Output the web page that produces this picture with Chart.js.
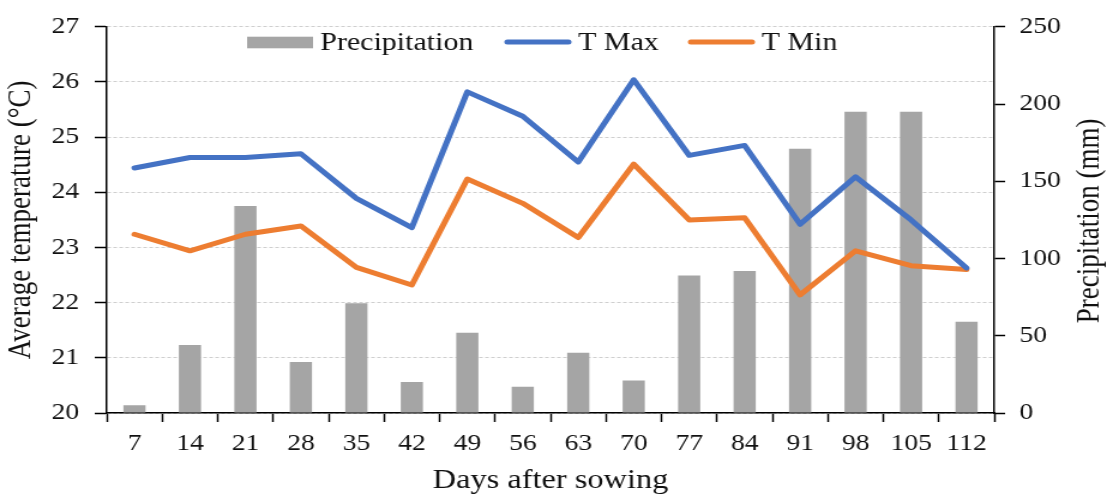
<!DOCTYPE html>
<html>
<head>
<meta charset="utf-8">
<title>Temperature and precipitation by days after sowing</title>
<script src="https://cdn.jsdelivr.net/npm/chart.js@4.4.1/dist/chart.umd.min.js"></script>
<style>
  html, body { margin: 0; padding: 0; background: #ffffff; overflow: hidden; }
  /* the chart is laid out on a narrower canvas and widened to the page */
  #wrap { width: 928px; height: 497px; transform: scaleX(1.19935); transform-origin: 0 0; }
  canvas { display: block; }
</style>
</head>
<body>
<div id="wrap"><canvas id="chart" width="928" height="497"></canvas></div>
<script>
// Days after sowing
const days = ['7', '14', '21', '28', '35', '42', '49', '56', '63', '70', '77', '84', '91', '98', '105', '112'];
// Precipitation per period (mm)
const precipitation = [5, 44, 134, 33, 71, 20, 52, 17, 39, 21, 89, 92, 171, 195, 195, 59];
// Average maximum and minimum temperature (°C)
const tMax = [24.44, 24.63, 24.63, 24.70, 23.89, 23.36, 25.82, 25.38, 24.55, 26.04, 24.67, 24.85, 23.42, 24.28, 23.50, 22.63];
const tMin = [23.24, 22.94, 23.24, 23.39, 22.64, 22.32, 24.24, 23.80, 23.18, 24.51, 23.50, 23.54, 22.14, 22.94, 22.67, 22.60];
// Axis tick values
const tempTicks = [20, 21, 22, 23, 24, 25, 26, 27];
const precipTicks = [0, 50, 100, 150, 200, 250];

const seriesNames = { precip: 'Precipitation', max: 'T Max', min: 'T Min' };
const axisTitles = { x: 'Days after sowing', y: 'Average temperature (°C)', y1: 'Precipitation (mm)' };

const COLORS = { max: '#4472C4', min: '#ED7D31', bar: '#A5A5A5', text: '#111111', grid: '#cfcfcf', axis: '#000000' };
const SERIF = "'Liberation Serif', 'Times New Roman', serif";

Chart.defaults.font.family = SERIF;
Chart.defaults.color = COLORS.text;

// Legend drawn inside the plot area, along the top
const legendLayout = { starts: [206, 421, 574], y: 42, symbolWidth: 55, gap: 6, boxHeight: 11.6, fontSize: 25 };

const insideLegend = {
  id: 'insideLegend',
  afterDraw(chart) {
    const ctx = chart.ctx;
    const L = legendLayout;
    const order = [2, 0, 1]; // Precipitation, T Max, T Min
    ctx.save();
    ctx.font = `${L.fontSize}px ${SERIF}`;
    ctx.textBaseline = 'middle';
    ctx.textAlign = 'left';
    order.forEach((di, k) => {
      const ds = chart.data.datasets[di];
      const x0 = L.starts[k];
      if (ds.type === 'bar') {
        ctx.fillStyle = ds.backgroundColor;
        ctx.fillRect(x0, L.y - L.boxHeight / 2 + 0.5, L.symbolWidth, L.boxHeight);
      } else {
        ctx.strokeStyle = ds.borderColor;
        ctx.lineWidth = ds.borderWidth;
        ctx.lineCap = 'round';
        ctx.beginPath();
        ctx.moveTo(x0 + 2, L.y);
        ctx.lineTo(x0 + L.symbolWidth - 2, L.y);
        ctx.stroke();
      }
      ctx.fillStyle = COLORS.text;
      ctx.fillText(ds.label, x0 + L.symbolWidth + L.gap, L.y + 1);
    });
    ctx.restore();
  }
};

// Right axis title reads upward, like the left one
const rightAxisTitle = {
  id: 'rightAxisTitle',
  afterDraw(chart) {
    const ctx = chart.ctx;
    const area = chart.chartArea;
    ctx.save();
    ctx.translate(chart.width - 19, (area.top + area.bottom) / 2 + 1);
    ctx.rotate(-Math.PI / 2);
    ctx.font = `27px ${SERIF}`;
    ctx.fillStyle = COLORS.text;
    ctx.textAlign = 'center';
    ctx.textBaseline = 'middle';
    ctx.fillText(axisTitles.y1, 0, 0);
    ctx.restore();
  }
};

new Chart(document.getElementById('chart'), {
  type: 'bar',
  data: {
    labels: days,
    datasets: [
      {
        type: 'line', label: seriesNames.max, data: tMax, yAxisID: 'y',
        borderColor: COLORS.max, backgroundColor: COLORS.max, borderWidth: 5,
        pointRadius: 0, tension: 0, borderJoinStyle: 'round', borderCapStyle: 'round', order: 0
      },
      {
        type: 'line', label: seriesNames.min, data: tMin, yAxisID: 'y',
        borderColor: COLORS.min, backgroundColor: COLORS.min, borderWidth: 5,
        pointRadius: 0, tension: 0, borderJoinStyle: 'round', borderCapStyle: 'round', order: 1
      },
      {
        type: 'bar', label: seriesNames.precip, data: precipitation, yAxisID: 'y1',
        backgroundColor: COLORS.bar, borderWidth: 0,
        barPercentage: 0.4, categoryPercentage: 1, order: 2
      }
    ]
  },
  options: {
    responsive: false,
    animation: false,
    devicePixelRatio: 1,
    events: [],
    layout: { padding: { top: 21, left: 0, right: 0, bottom: 0 } },
    plugins: {
      legend: { display: false },
      tooltip: { enabled: false },
      title: { display: false }
    },
    scales: {
      x: {
        type: 'category',
        offset: true,
        grid: {
          display: true, drawOnChartArea: false, offset: true,
          tickLength: 9, tickColor: COLORS.axis, tickWidth: 1.5
        },
        border: { display: true, color: COLORS.axis, width: 1.5 },
        ticks: { font: { size: 23 }, padding: 8, maxRotation: 0, autoSkip: false, color: COLORS.text },
        title: { display: true, text: axisTitles.x, font: { size: 27 }, padding: { top: 0, bottom: 0 }, color: COLORS.text },
        afterFit(scale) { scale.height = 84; }
      },
      y: {
        position: 'left',
        min: 20, max: 27,
        afterBuildTicks(scale) { scale.ticks = tempTicks.map(v => ({ value: v })); },
        grid: {
          color: COLORS.grid, lineWidth: 1,
          tickLength: 10, tickColor: COLORS.axis, tickWidth: 1.5, tickBorderDash: []
        },
        border: { display: true, color: COLORS.axis, width: 1.5, dash: [3, 2] },
        ticks: { font: { size: 23 }, padding: 13, color: COLORS.text },
        title: { display: true, text: axisTitles.y, font: { size: 27 }, padding: { top: 2, bottom: 0 }, color: COLORS.text },
        afterFit(scale) { scale.width = 89; }
      },
      y1: {
        position: 'right',
        min: 0, max: 250,
        afterBuildTicks(scale) { scale.ticks = precipTicks.map(v => ({ value: v })); },
        grid: {
          drawOnChartArea: false,
          tickLength: 9, tickColor: COLORS.axis, tickWidth: 1.5
        },
        border: { display: true, color: COLORS.axis, width: 1.5 },
        ticks: { font: { size: 23 }, padding: 12, color: COLORS.text },
        title: { display: false },
        afterFit(scale) { scale.width = 99; }
      }
    }
  },
  plugins: [insideLegend, rightAxisTitle]
});
</script>
</body>
</html>
